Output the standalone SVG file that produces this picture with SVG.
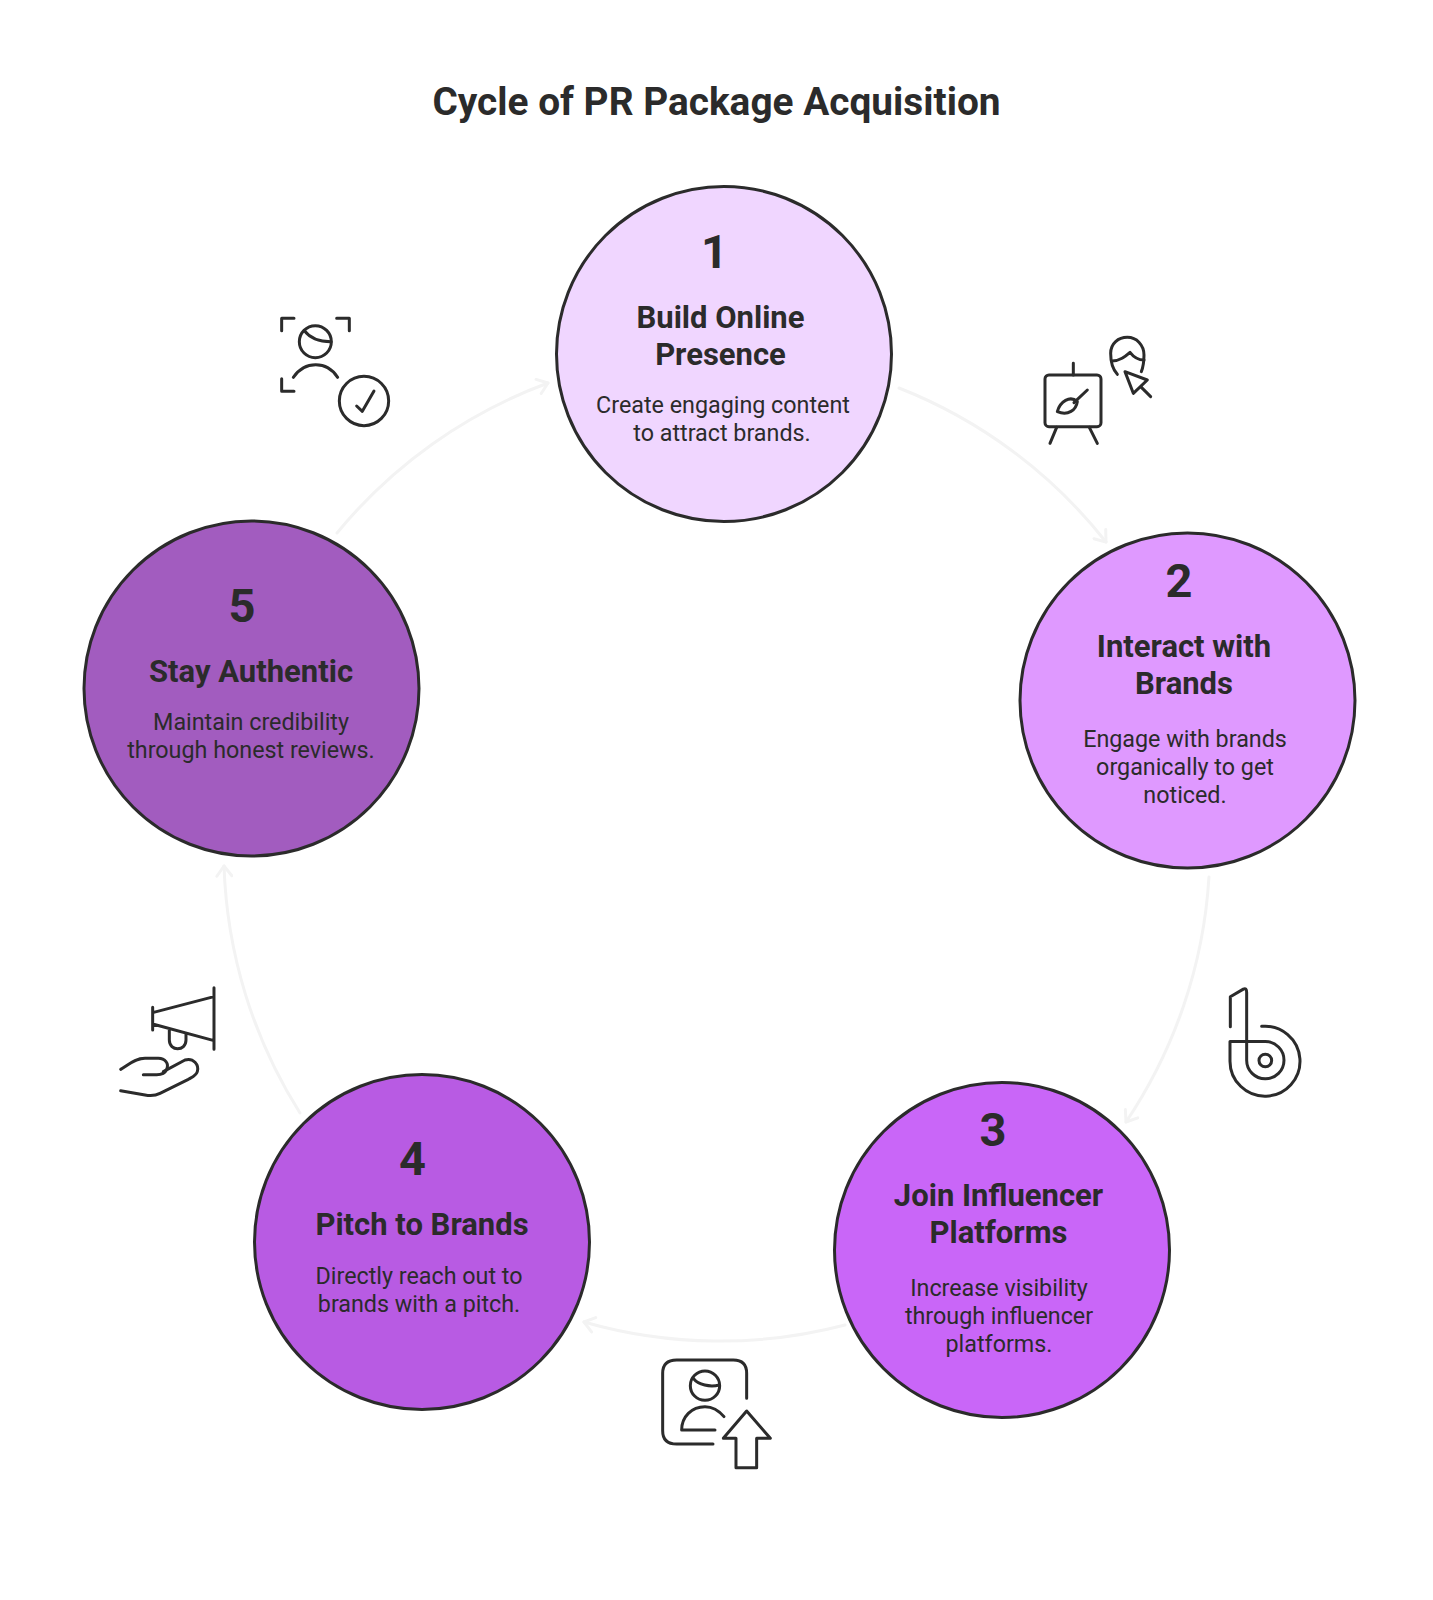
<svg xmlns="http://www.w3.org/2000/svg" width="1433" height="1600" viewBox="0 0 1433 1600">
<style>
text{font-family:Roboto,"Liberation Sans",sans-serif;fill:#2b2b2b;text-anchor:middle}
.ttl{font-size:38.800px;font-weight:700}
.num{font-size:47px;font-weight:700}
.h{font-size:31px;font-weight:700}
.d{font-size:23.300px;font-weight:400}
.c{stroke:#2b2b2b;stroke-width:3}
.ic{fill:none;stroke:#2b2b2b;stroke-width:9;stroke-linecap:round;stroke-linejoin:round}
.cn{fill:none;stroke:#f3f3f3;stroke-width:3;stroke-linecap:round;marker-end:url(#ah)}
</style>
<defs>
<marker id="ah" viewBox="-12 -9 14 18" refX="0" refY="0" markerWidth="14" markerHeight="18" markerUnits="userSpaceOnUse" orient="auto">
<path d="M-10 -7.5L0 0L-10 7.5" fill="none" stroke="#f3f3f3" stroke-width="3" stroke-linecap="round" stroke-linejoin="round"/>
</marker>
</defs>
<rect width="1433" height="1600" fill="#fff"/>
<text class="ttl" x="716.500" y="115">Cycle of PR Package Acquisition</text>
<g id="connectors">
<path class="cn" d="M899 388A493 493 0 0 1 1106 542"/>
<path class="cn" d="M1209 877A493 493 0 0 1 1126 1122"/>
<path class="cn" d="M845 1325A493 493 0 0 1 584 1322"/>
<path class="cn" d="M300 1113A493 493 0 0 1 224 866"/>
<path class="cn" d="M337 533A493 493 0 0 1 548 383"/>
</g>
<g id="node-1">
<circle class="c" cx="724" cy="354" r="167.500" fill="#f0d6ff"/>
<text class="num" x="714.500" y="268">1</text>
<text class="h" x="720.500" y="328">Build Online</text>
<text class="h" x="720.500" y="365">Presence</text>
<text class="d" x="723" y="413">Create engaging content</text>
<text class="d" x="722" y="441">to attract brands.</text>
</g>
<g id="node-2">
<circle class="c" cx="1187.500" cy="700.500" r="167.500" fill="#df99ff"/>
<text class="num" x="1179" y="597">2</text>
<text class="h" x="1184" y="657">Interact with</text>
<text class="h" x="1184" y="694">Brands</text>
<text class="d" x="1185" y="747">Engage with brands</text>
<text class="d" x="1185" y="775">organically to get</text>
<text class="d" x="1185" y="803">noticed.</text>
</g>
<g id="node-3">
<circle class="c" cx="1002" cy="1250" r="167.500" fill="#c966f8"/>
<text class="num" x="993" y="1146">3</text>
<text class="h" x="998.500" y="1206">Join Influencer</text>
<text class="h" x="998.500" y="1243">Platforms</text>
<text class="d" x="999" y="1296">Increase visibility</text>
<text class="d" x="999" y="1324">through influencer</text>
<text class="d" x="999" y="1352">platforms.</text>
</g>
<g id="node-4">
<circle class="c" cx="422" cy="1242" r="167.500" fill="#b85be3"/>
<text class="num" x="412.500" y="1175">4</text>
<text class="h" x="422" y="1235">Pitch to Brands</text>
<text class="d" x="419" y="1284">Directly reach out to</text>
<text class="d" x="419" y="1312">brands with a pitch.</text>
</g>
<g id="node-5">
<circle class="c" cx="251.500" cy="688.500" r="167.500" fill="#a25cbf"/>
<text class="num" x="242" y="621.500">5</text>
<text class="h" x="251" y="682">Stay Authentic</text>
<text class="d" x="251" y="730">Maintain credibility</text>
<text class="d" x="251" y="758">through honest reviews.</text>
</g>
<g id="icon-1" transform="translate(1000 310) scale(.3333)" class="ic">
<path d="M352 193C335 175 332 150 332 130C332 100 355 82 382 82C410 82 432 105 432 135C432 150 430 170 424 185"/>
<path d="M335 153C360 153 375 140 390 127C400 140 415 150 432 150"/>
<path d="M375 185L442 210L400 250ZM422 230L452 260"/>
<rect x="135" y="195" width="168" height="155" rx="12"/>
<path d="M220 160V195M170 352L150 400M268 352L292 400M222 278L262 240"/>
<path d="M172 305C180 275 210 255 232 275C228 300 205 318 172 305Z"/>
</g>
<g id="icon-2" transform="translate(1180 949.500) scale(.3333)" class="ic">
<path d="M151 232V142L190 119Q200 114 200 129V332A56 56 0 1 0 256 276H150V335A105 105 0 1 0 245 230.500"/>
<circle cx="256" cy="333" r="19"/>
</g>
<g id="icon-3" class="ic" transform="translate(630 1310) scale(.3333)">
<path d="M350 265V190Q350 150 310 150H140Q98 150 98 190V362Q98 402 140 402H249"/>
<circle cx="225" cy="227" r="44"/>
<path d="M190 205C205 225 240 232 268 225M155 360C155 320 185 290 225 290C250 290 268 303 282 320M155 360H255"/>
<path d="M350 303L421 385H380V473H318V385H280Z"/>
</g>
<g id="icon-4" class="ic" transform="translate(100 950) scale(.3333)">
<path d="M158 172V240M342 113V298M158 188L342 140M158 222L342 272M208 240V270C208 305 258 305 258 270V252"/>
<path d="M62 358C85 345 105 325 135 325H175C195 325 208 340 200 358C195 370 185 374 170 374H130"/>
<path d="M190 365L255 330C280 322 298 345 292 365C288 378 275 382 265 388L180 430C165 438 150 438 135 435L62 422"/>
</g>
<g id="icon-5" class="ic" transform="translate(250 290) scale(.3333)">
<path d="M95 122V85H132M260 85H298V122M95 266V304H132"/>
<circle cx="196" cy="155" r="48"/>
<path d="M163 122C180 145 210 155 243 155M130 262C165 212 230 212 263 262"/>
<circle cx="342" cy="333" r="74"/>
<path d="M320 348L337 364L372 303"/>
</g>
</svg>
